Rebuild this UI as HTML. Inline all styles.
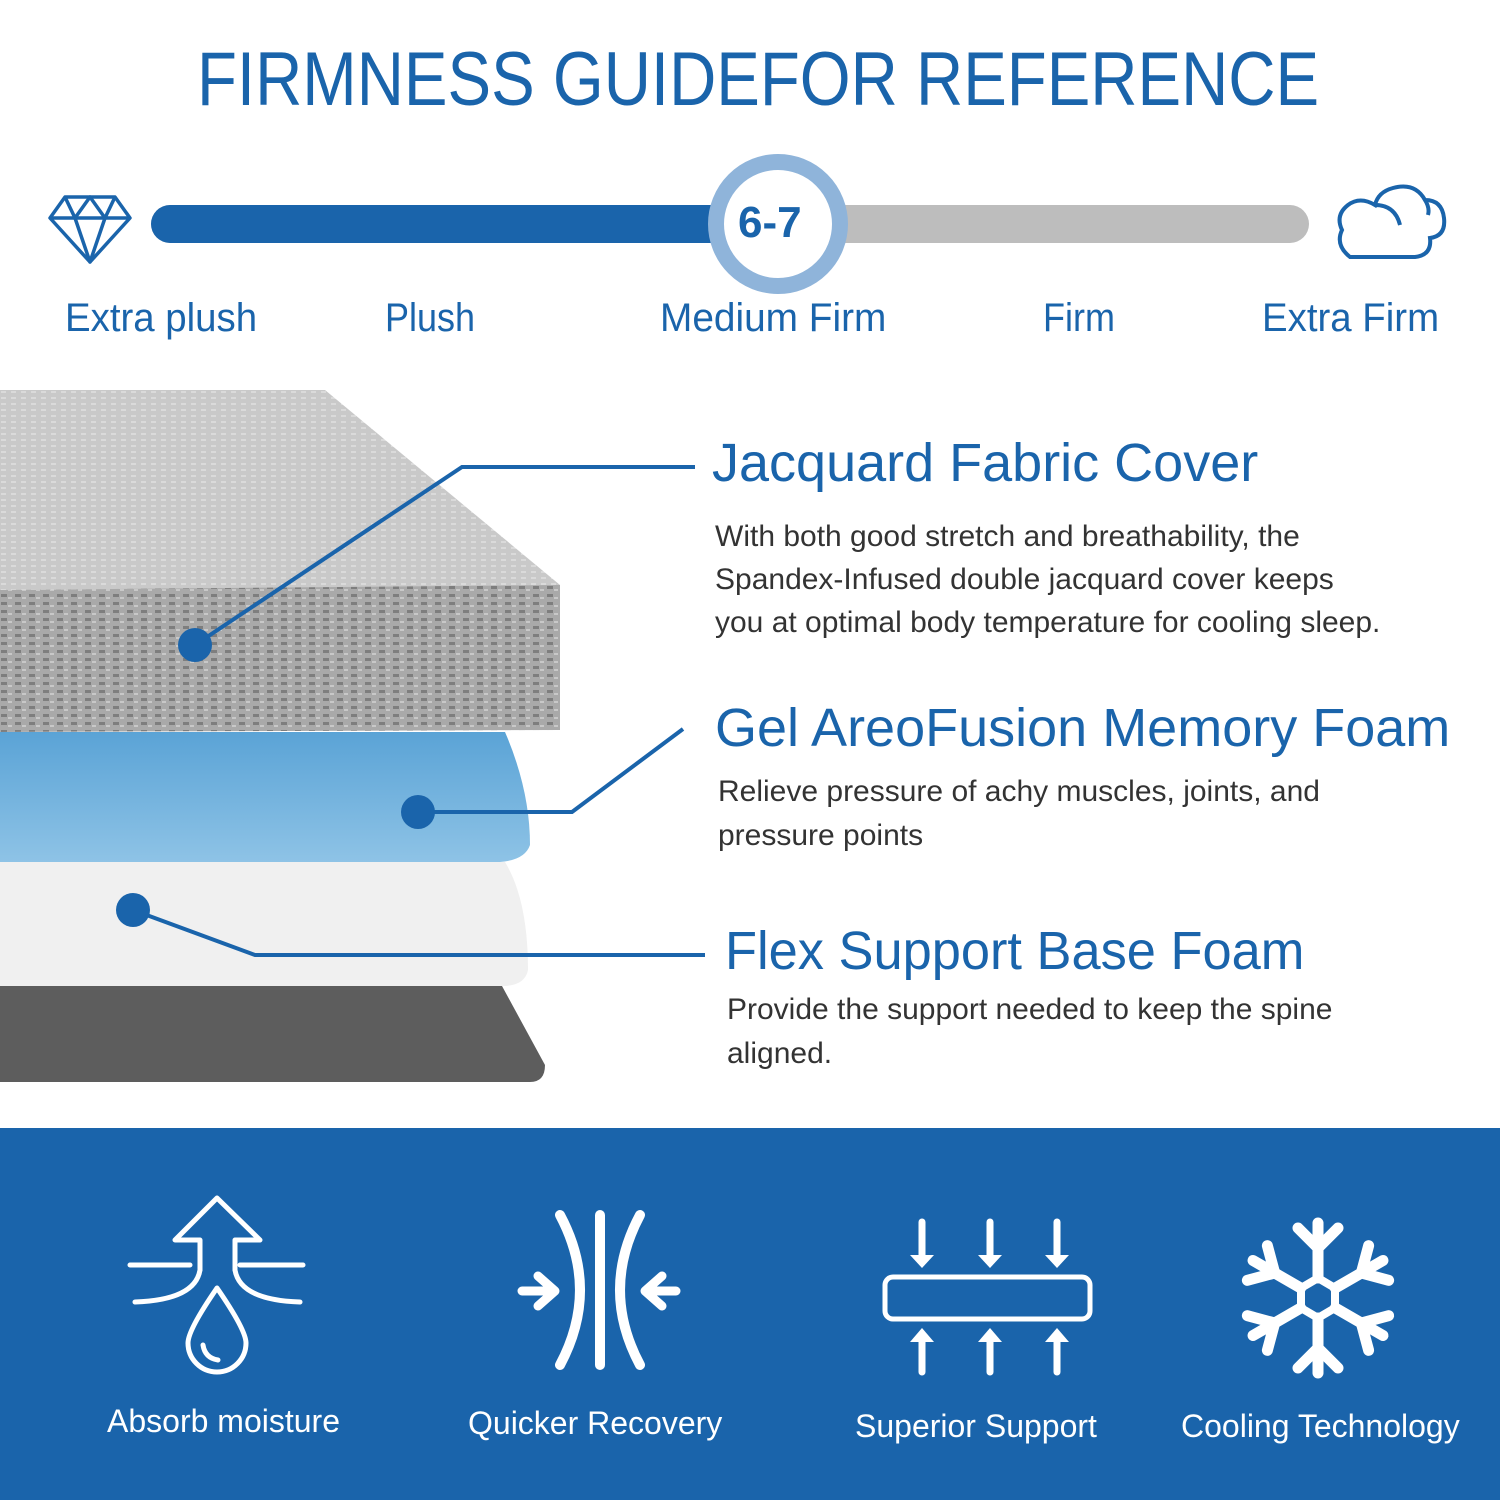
<!DOCTYPE html>
<html><head><meta charset="utf-8"><style>
html,body{margin:0;padding:0;background:#fff}
body{width:1500px;height:1500px;position:relative;overflow:hidden;font-family:"Liberation Sans",sans-serif}
.t{position:absolute;white-space:nowrap}
</style></head><body>
<svg width="1500" height="1500" style="position:absolute;left:0;top:0">
<defs>
<pattern id="knit" width="14" height="8" patternUnits="userSpaceOnUse">
<rect width="14" height="8" fill="#a9a9a9"/><rect x="1" y="2" width="6" height="3" fill="#7e7e7e"/><rect x="8" y="5" width="4" height="2" fill="#c8c8c8"/></pattern>
<pattern id="knit2" width="10" height="6" patternUnits="userSpaceOnUse">
<rect width="10" height="6" fill="#c9c9c9"/><rect x="1" y="1" width="5" height="2" fill="#dadada"/></pattern>
<linearGradient id="bl" x1="0" y1="0" x2="0" y2="1"><stop offset="0" stop-color="#5aa3d6"/><stop offset="1" stop-color="#8ec3e6"/></linearGradient>
</defs>
<polygon points="0,390 325,390 560,585 560,592 0,592" fill="url(#knit2)"/>
<polygon points="0,590 560,585 560,730 0,732" fill="url(#knit)"/>
<path d="M0,732 L505,732 Q530,790 530,845 Q525,860 500,862 L0,862Z" fill="url(#bl)"/>
<path d="M0,862 L505,862 Q528,900 528,970 Q525,985 505,986 L0,986Z" fill="#f0f0f0"/>
<path d="M0,986 L502,986 L545,1065 Q545,1082 530,1082 L0,1082Z" fill="#5d5d5d"/>
<g stroke="#1a64ab" stroke-width="4" fill="none">
<polyline points="195,645 462,467 695,467"/>
<polyline points="418,812 572,812 683,729"/>
<polyline points="133,910 255,955 705,955"/>
</g>
<g fill="#1a64ab"><circle cx="195" cy="645" r="17"/><circle cx="418" cy="812" r="17"/><circle cx="133" cy="910" r="17"/></g>
<line x1="170" y1="224" x2="1290" y2="224" stroke="#bdbdbd" stroke-width="38" stroke-linecap="round"/>
<line x1="170" y1="224" x2="740" y2="224" stroke="#1a64ab" stroke-width="38" stroke-linecap="round"/>
<circle cx="778" cy="224" r="62" fill="#fff" stroke="#8fb4da" stroke-width="16"/>
<g stroke="#1a64ab" stroke-width="3.5" fill="none" stroke-linejoin="round">
<polygon points="65,197 115,197 130,218 90,262 50,218"/>
<polyline points="50,218 130,218"/>
<polyline points="65,197 75,218 90,197 105,218 115,197"/>
<polyline points="75,218 90,262 105,218"/>
</g>
<path d="M1350,257 L1415,257 Q1432,255 1430,238 Q1446,236 1444,218 Q1442,200 1425,200 Q1415,182 1393,188 Q1378,192 1375,205 Q1360,196 1348,205 Q1335,215 1342,230 Q1335,245 1350,257Z M1375,205 Q1395,205 1400,225 M1425,200 Q1430,208 1428,215" stroke="#1a64ab" stroke-width="4" fill="none"/>
<rect x="0" y="1128" width="1500" height="372" fill="#1a64ab"/>
<g stroke="#fff" stroke-width="5" fill="none" stroke-linecap="round" stroke-linejoin="round">
<path d="M200,1270 L200,1240 L175,1240 L217,1198 L260,1240 L235,1240 L235,1270"/>
<path d="M130,1265 L190,1265 M240,1265 L303,1265 M135,1302 Q195,1300 200,1270 M300,1302 Q240,1300 235,1270"/>
<path d="M217,1288 Q188,1330 188,1343 A29,29 0 0 0 246,1343 Q246,1330 217,1288Z"/>
<path d="M203,1345 Q205,1358 218,1360"/>
<path d="M560,1215 Q600,1290 560,1365 M640,1215 Q600,1290 640,1365" stroke-width="10"/>
<line x1="600" y1="1215" x2="600" y2="1365" stroke-width="10"/>
<path d="M522,1291 L552,1291 M538,1276 L555,1291 L538,1306 M676,1291 L646,1291 M662,1276 L645,1291 L662,1306" stroke-width="9"/>
<rect x="885" y="1277" width="205" height="42" rx="8"/>
<path d="M922,1222 L922,1262 M990,1222 L990,1262 M1057,1222 L1057,1262 M922,1372 L922,1334 M990,1372 L990,1334 M1057,1372 L1057,1334" stroke-width="7"/>
</g>
<g fill="#fff">
<polygon points="910,1255 934,1255 922,1268"/><polygon points="978,1255 1002,1255 990,1268"/><polygon points="1045,1255 1069,1255 1057,1268"/>
<polygon points="910,1342 934,1342 922,1328"/><polygon points="978,1342 1002,1342 990,1328"/><polygon points="1045,1342 1069,1342 1057,1328"/>
</g>
<g stroke="#fff" stroke-width="11" fill="none" stroke-linecap="round" transform="translate(1318,1298)">
<g id="arm"><line x1="0" y1="-20" x2="0" y2="-75"/><polyline points="-20,-70 0,-50 20,-70"/></g>
<use href="#arm" transform="rotate(60)"/><use href="#arm" transform="rotate(120)"/><use href="#arm" transform="rotate(180)"/><use href="#arm" transform="rotate(240)"/><use href="#arm" transform="rotate(300)"/>
<polygon points="0,-20 17,-10 17,10 0,20 -17,10 -17,-10" stroke-width="8"/>
</g>
</svg>
<div class="t" style="left:197px;top:36px;font-size:76px;color:#1a64ab;transform:scaleX(0.86);transform-origin:0 0">FIRMNESS GUIDEFOR REFERENCE</div>
<div class="t" style="left:738px;top:198px;font-size:44px;font-weight:bold;color:#1a64ab">6-7</div>
<div class="t" style="left:65px;top:296px;font-size:40px;color:#1a64ab;transform:scaleX(0.96);transform-origin:0 0">Extra plush</div>
<div class="t" style="left:385px;top:296px;font-size:40px;color:#1a64ab;transform:scaleX(0.9);transform-origin:0 0">Plush</div>
<div class="t" style="left:660px;top:296px;font-size:40px;color:#1a64ab;transform:scaleX(0.97);transform-origin:0 0">Medium Firm</div>
<div class="t" style="left:1043px;top:296px;font-size:40px;color:#1a64ab;transform:scaleX(0.9);transform-origin:0 0">Firm</div>
<div class="t" style="left:1262px;top:296px;font-size:40px;color:#1a64ab;transform:scaleX(0.96);transform-origin:0 0">Extra Firm</div>
<div class="t" style="left:712px;top:432px;font-size:54px;color:#1a64ab">Jacquard Fabric Cover</div>
<div class="t" style="left:715px;top:515px;font-size:30px;line-height:43px;color:#333">With both good stretch and breathability, the<br>Spandex-Infused double jacquard cover keeps<br>you at optimal body temperature for cooling sleep.</div>
<div class="t" style="left:715px;top:697px;font-size:54px;color:#1a64ab">Gel AreoFusion Memory Foam</div>
<div class="t" style="left:718px;top:770px;font-size:30px;line-height:44px;color:#333">Relieve pressure of achy muscles, joints, and<br>pressure points</div>
<div class="t" style="left:725px;top:920px;font-size:54px;color:#1a64ab;transform:scaleX(0.97);transform-origin:0 0">Flex Support Base Foam</div>
<div class="t" style="left:727px;top:988px;font-size:30px;line-height:44px;color:#333">Provide the support needed to keep the spine<br>aligned.</div>
<div class="t" style="left:107px;top:1403px;font-size:32px;color:#fff">Absorb moisture</div>
<div class="t" style="left:468px;top:1405px;font-size:32px;color:#fff">Quicker Recovery</div>
<div class="t" style="left:855px;top:1408px;font-size:32px;color:#fff">Superior Support</div>
<div class="t" style="left:1181px;top:1408px;font-size:32px;color:#fff">Cooling Technology</div>
</body></html>
